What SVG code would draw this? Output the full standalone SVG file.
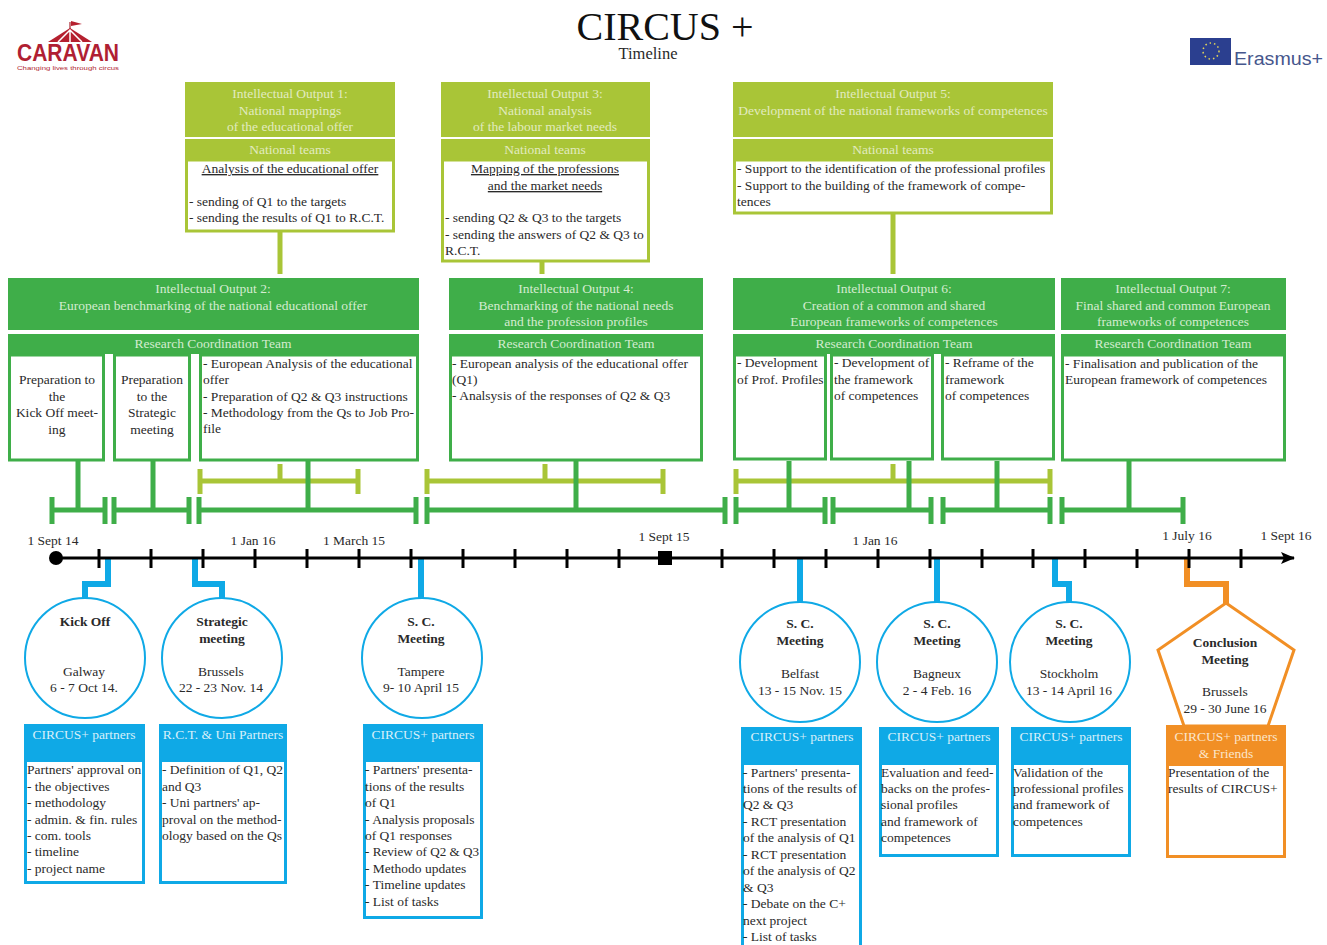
<svg xmlns="http://www.w3.org/2000/svg" width="1327" height="945" viewBox="0 0 1327 945">
<style>
text{font-family:"Liberation Serif","Times New Roman",serif;font-size:13.5px;fill:#2a2a2a}
.m{text-anchor:middle}
.b{font-weight:bold}
.w{fill:#e2ebc0;text-anchor:middle}
.wg{fill:#d4ecd0;text-anchor:middle}
.wb{fill:#d8f0fa;text-anchor:middle}
.wo{fill:#fbe6cc;text-anchor:middle}
.u{text-decoration:underline}
.lg{fill:#a9c537}
.dg{fill:#3fae49}
.lo{fill:#fff;stroke:#a9c537;stroke-width:3}
.do{fill:#fff;stroke:#3fae49;stroke-width:3}
.bo{fill:#fff;stroke:#0fa9e6;stroke-width:3}
.bc{fill:#fff;stroke:#0fa9e6;stroke-width:2}
.oo{fill:#fff;stroke:#f18f25;stroke-width:3}
.bf{fill:#0fa9e6}
.of{fill:#f18f25}
.cl{fill:none;stroke:#a9c537;stroke-width:5}
.cd{fill:none;stroke:#3fae49;stroke-width:5}
.cb{fill:none;stroke:#0fa9e6;stroke-width:6}
.co{fill:none;stroke:#f18f25;stroke-width:6}
.t{stroke:#000;stroke-width:3;fill:none}
</style>
<defs>
<marker id="arrow" markerUnits="userSpaceOnUse" markerWidth="16" markerHeight="14" refX="13" refY="7" orient="auto"><path d="M0 1 L14 7 L0 13 L3 7 Z" fill="#000"/></marker>
</defs>
<rect width="1327" height="945" fill="#fff"/>

<g id="logo-caravan">
<path d="M70 22V33" stroke="#a8242f" stroke-width="1.2"/>
<path d="M71 21L82 24L71 26Z" fill="#b5202f"/>
<path d="M48 42L70 28L92 42Z" fill="#b5202f"/>
<path d="M58 42L70 30L82 42M70 30V42" stroke="#fff" stroke-width="1.5" fill="none"/>
<text x="68" y="61" class="m" style="font-family:'Liberation Sans',sans-serif;font-size:24px;font-weight:bold;fill:#b01f33" textLength="102" lengthAdjust="spacingAndGlyphs">CARAVAN</text>
<text x="68" y="70" class="m" style="font-family:'Liberation Sans',sans-serif;font-size:6px;fill:#b01f33" textLength="102" lengthAdjust="spacingAndGlyphs">Changing lives through circus</text>
</g>
<g id="title">
<text x="665" y="40" class="m" style="font-size:40px;fill:#111">CIRCUS +</text>
<text x="648" y="59" class="m" style="font-size:16.500px">Timeline</text>
</g>
<g id="logo-erasmus">
<rect x="1190" y="38" width="41" height="27" fill="#2b3f8f"/>
<circle cx="1211" cy="51" r="8" fill="none" stroke="#e5d65a" stroke-width="1.5" stroke-dasharray="1.5 3"/>
<text x="1234" y="65" style="font-family:'Liberation Sans',sans-serif;font-size:17.500px;fill:#46568c" textLength="89" lengthAdjust="spacingAndGlyphs">Erasmus+</text>
</g>

<g id="connectors">
<path class="cl" d="M280 232V274M542 262V274M893 213V274"/>
<path class="cl" d="M280 464V481M545 464V481M893 464V481"/>
<path class="cl" d="M200 481H358M200 469V494M358 469V494M427 481H663M427 469V494M663 469V494M736 481H1050M736 469V494M1050 469V494"/>
<path class="cd" d="M78 461V510M153 461V510M308 461V510M576 461V510M789 461V510M909 461V510M997 461V510M1129 461V510"/>
<path class="cd" d="M52 510H105M52 497V524M105 497V524M114 510H189M114 497V524M189 497V524M199 510H416M199 497V524M416 497V524M427 510H725M427 497V524M725 497V524M736 510H825M736 497V524M825 497V524M833 510H931M833 497V524M931 497V524M943 510H1050M943 497V524M1050 497V524M1062 510H1183M1062 497V524M1183 497V524"/>
<path class="cb" d="M108 558V584H85V600M195 558V584H222V600M421 558V600M800 558V602M937 558V602M1055 558V584H1069V602"/>
<path class="co" d="M1187 558V584H1226V604"/>
<path d="M56 558H1294" stroke="#000" stroke-width="3" fill="none" marker-end="url(#arrow)"/>
<path class="t" d="M99 549V568M151 549V568M203 549V568M255 549V568M307 549V568M359 549V568M411 549V568M463 549V568M515 549V568M567 549V568M619 549V568M722 549V568M774 549V568M826 549V568M878 549V568M930 549V568M982 549V568M1033 549V568M1085 549V568M1137 549V568M1189 549V568M1241 549V568"/>
<circle cx="56" cy="558" r="7" fill="#000"/>
<rect x="658" y="551" width="14" height="14" fill="#000"/>
</g>

<g id="axis-labels">
<text x="53" y="545" class="m">1 Sept 14</text>
<text x="253" y="545" class="m">1 Jan 16</text>
<text x="354" y="545" class="m">1 March 15</text>
<text x="664" y="541" class="m">1 Sept 15</text>
<text x="875" y="545" class="m">1 Jan 16</text>
<text x="1187" y="540" class="m">1 July 16</text>
<text x="1286" y="540" class="m">1 Sept 16</text>
</g>

<g id="io1">
<rect class="lg" x="185" y="82" width="210" height="55"/>
<rect class="lg" x="185" y="139" width="210" height="21"/>
<rect class="lo" x="186.500" y="160" width="207" height="71"/>
<text x="290" y="98" class="w">Intellectual Output 1:</text>
<text x="290" y="115" class="w">National mappings</text>
<text x="290" y="131" class="w">of the educational offer</text>
<text x="290" y="154" class="w">National teams</text>
<text x="290" y="173" class="m u">Analysis of the educational offer</text>
<text x="189" y="206">- sending of Q1 to the targets</text>
<text x="189" y="222">- sending the results of Q1 to R.C.T.</text>
</g>
<g id="io3">
<rect class="lg" x="441" y="82" width="209" height="55"/>
<rect class="lg" x="441" y="139" width="209" height="21"/>
<rect class="lo" x="442.500" y="160" width="206" height="101"/>
<text x="545" y="98" class="w">Intellectual Output 3:</text>
<text x="545" y="115" class="w">National analysis</text>
<text x="545" y="131" class="w">of the labour market needs</text>
<text x="545" y="154" class="w">National teams</text>
<text x="545" y="173" class="m u">Mapping of the professions</text>
<text x="545" y="190" class="m u">and the market needs</text>
<text x="445" y="222">- sending Q2 &amp; Q3 to the targets</text>
<text x="445" y="239">- sending the answers of Q2 &amp; Q3 to</text>
<text x="445" y="255">R.C.T.</text>
</g>
<g id="io5">
<rect class="lg" x="733" y="82" width="320" height="55"/>
<rect class="lg" x="733" y="139" width="320" height="21"/>
<rect class="lo" x="734.500" y="160" width="317" height="53"/>
<text x="893" y="98" class="w">Intellectual Output 5:</text>
<text x="893" y="115" class="w">Development of the national frameworks of competences</text>
<text x="893" y="154" class="w">National teams</text>
<text x="737" y="173">- Support to the identification of the professional profiles</text>
<text x="737" y="190">- Support to the building of the framework of compe-</text>
<text x="737" y="206">tences</text>
</g>

<g id="io2">
<rect class="dg" x="8" y="278" width="411" height="52"/>
<rect class="dg" x="8" y="334" width="411" height="20"/>
<rect class="do" x="9.500" y="355" width="94" height="105"/>
<rect class="do" x="114.500" y="355" width="75" height="105"/>
<rect class="do" x="200.500" y="355" width="217" height="105"/>
<text x="213" y="293" class="wg">Intellectual Output 2:</text>
<text x="213" y="310" class="wg">European benchmarking of the national educational offer</text>
<text x="213" y="348" class="wg">Research Coordination Team</text>
<text x="57" y="384" class="m">Preparation to</text>
<text x="57" y="401" class="m">the</text>
<text x="57" y="417" class="m">Kick Off meet-</text>
<text x="57" y="434" class="m">ing</text>
<text x="152" y="384" class="m">Preparation</text>
<text x="152" y="401" class="m">to the</text>
<text x="152" y="417" class="m">Strategic</text>
<text x="152" y="434" class="m">meeting</text>
<text x="203" y="368">- European Analysis of the educational</text>
<text x="203" y="384">offer</text>
<text x="203" y="401">- Preparation of Q2 &amp; Q3 instructions</text>
<text x="203" y="417">- Methodology from the Qs to Job Pro-</text>
<text x="203" y="433">file</text>
</g>
<g id="io4">
<rect class="dg" x="449" y="278" width="254" height="52"/>
<rect class="dg" x="449" y="334" width="254" height="20"/>
<rect class="do" x="450.500" y="355" width="251" height="105"/>
<text x="576" y="293" class="wg">Intellectual Output 4:</text>
<text x="576" y="310" class="wg">Benchmarking of the national needs</text>
<text x="576" y="326" class="wg">and the profession profiles</text>
<text x="576" y="348" class="wg">Research Coordination Team</text>
<text x="452" y="368">- European analysis of the educational offer</text>
<text x="452" y="384">(Q1)</text>
<text x="452" y="400">- Analsysis of the responses of Q2 &amp; Q3</text>
</g>
<g id="io6">
<rect class="dg" x="733" y="278" width="322" height="52"/>
<rect class="dg" x="733" y="334" width="322" height="20"/>
<rect class="do" x="734.500" y="355" width="91" height="104"/>
<rect class="do" x="831.500" y="355" width="101" height="104"/>
<rect class="do" x="942.500" y="355" width="111" height="104"/>
<text x="894" y="293" class="wg">Intellectual Output 6:</text>
<text x="894" y="310" class="wg">Creation of a common and shared</text>
<text x="894" y="326" class="wg">European frameworks of competences</text>
<text x="894" y="348" class="wg">Research Coordination Team</text>
<text x="737" y="367">- Development</text>
<text x="737" y="384">of Prof. Profiles</text>
<text x="834" y="367">- Development of</text>
<text x="834" y="384">the framework</text>
<text x="834" y="400">of competences</text>
<text x="945" y="367">- Reframe of the</text>
<text x="945" y="384">framework</text>
<text x="945" y="400">of competences</text>
</g>
<g id="io7">
<rect class="dg" x="1061" y="278" width="225" height="52"/>
<rect class="dg" x="1061" y="334" width="225" height="20"/>
<rect class="do" x="1062.500" y="355" width="222" height="105"/>
<text x="1173" y="293" class="wg">Intellectual Output 7:</text>
<text x="1173" y="310" class="wg">Final shared and common European</text>
<text x="1173" y="326" class="wg">frameworks of competences</text>
<text x="1173" y="348" class="wg">Research Coordination Team</text>
<text x="1065" y="368">- Finalisation and publication of the</text>
<text x="1065" y="384">European framework of competences</text>
</g>

<g id="kickoff">
<circle class="bc" cx="85" cy="658" r="60"/>
<text x="85" y="626" class="m b">Kick Off</text>
<text x="84" y="676" class="m">Galway</text>
<text x="84" y="692" class="m">6 - 7 Oct 14.</text>
<rect class="bo" x="25.500" y="725.500" width="118" height="157"/>
<rect class="bf" x="24" y="724" width="121" height="38"/>
<text x="84" y="739" class="wb">CIRCUS+ partners</text>
<text x="27" y="774">Partners' approval on</text>
<text x="27" y="791">- the objectives</text>
<text x="27" y="807">- methodology</text>
<text x="27" y="824">- admin. &amp; fin. rules</text>
<text x="27" y="840">- com. tools</text>
<text x="27" y="856">- timeline</text>
<text x="27" y="873">- project name</text>
</g>
<g id="strategic">
<circle class="bc" cx="222" cy="658" r="60"/>
<text x="222" y="626" class="m b">Strategic</text>
<text x="222" y="643" class="m b">meeting</text>
<text x="221" y="676" class="m">Brussels</text>
<text x="221" y="692" class="m">22 - 23 Nov. 14</text>
<rect class="bo" x="160.500" y="725.500" width="125" height="157"/>
<rect class="bf" x="159" y="724" width="128" height="38"/>
<text x="223" y="739" class="wb">R.C.T. &amp; Uni Partners</text>
<text x="162" y="774">- Definition of Q1, Q2</text>
<text x="162" y="791">and Q3</text>
<text x="162" y="807">- Uni partners' ap-</text>
<text x="162" y="824">proval on the method-</text>
<text x="162" y="840">ology based on the Qs</text>
</g>
<g id="sc-tampere">
<circle class="bc" cx="422" cy="658" r="60"/>
<text x="421" y="626" class="m b">S. C.</text>
<text x="421" y="643" class="m b">Meeting</text>
<text x="421" y="676" class="m">Tampere</text>
<text x="421" y="692" class="m">9- 10 April 15</text>
<rect class="bo" x="364.500" y="725.500" width="117" height="192"/>
<rect class="bf" x="363" y="724" width="120" height="38"/>
<text x="423" y="739" class="wb">CIRCUS+ partners</text>
<text x="365" y="774">- Partners' presenta-</text>
<text x="365" y="791">tions of the results</text>
<text x="365" y="807">of Q1</text>
<text x="365" y="824">- Analysis proposals</text>
<text x="365" y="840">of Q1 responses</text>
<text x="365" y="856" textLength="114" lengthAdjust="spacingAndGlyphs">- Review of Q2 &amp; Q3</text>
<text x="365" y="873">- Methodo updates</text>
<text x="365" y="889">- Timeline updates</text>
<text x="365" y="906">- List of tasks</text>
</g>
<g id="sc-belfast">
<circle class="bc" cx="800" cy="662" r="60"/>
<text x="800" y="628" class="m b">S. C.</text>
<text x="800" y="645" class="m b">Meeting</text>
<text x="800" y="678" class="m">Belfast</text>
<text x="800" y="695" class="m">13 - 15 Nov. 15</text>
<rect class="bo" x="742.500" y="728.500" width="118" height="220"/>
<rect class="bf" x="741" y="727" width="121" height="38"/>
<text x="802" y="741" class="wb">CIRCUS+ partners</text>
<text x="743" y="777">- Partners' presenta-</text>
<text x="743" y="793">tions of the results of</text>
<text x="743" y="809">Q2 &amp; Q3</text>
<text x="743" y="826">- RCT presentation</text>
<text x="743" y="842">of the analysis of Q1</text>
<text x="743" y="859">- RCT presentation</text>
<text x="743" y="875">of the analysis of Q2</text>
<text x="743" y="892">&amp; Q3</text>
<text x="743" y="908">- Debate on the C+</text>
<text x="743" y="925">next project</text>
<text x="743" y="941">- List of tasks</text>
</g>
<g id="sc-bagneux">
<circle class="bc" cx="937" cy="662" r="60"/>
<text x="937" y="628" class="m b">S. C.</text>
<text x="937" y="645" class="m b">Meeting</text>
<text x="937" y="678" class="m">Bagneux</text>
<text x="937" y="695" class="m">2 - 4 Feb. 16</text>
<rect class="bo" x="880.500" y="728.500" width="117" height="127"/>
<rect class="bf" x="879" y="727" width="120" height="38"/>
<text x="939" y="741" class="wb">CIRCUS+ partners</text>
<text x="881" y="777">Evaluation and feed-</text>
<text x="881" y="793">backs on the profes-</text>
<text x="881" y="809">sional profiles</text>
<text x="881" y="826">and framework of</text>
<text x="881" y="842">competences</text>
</g>
<g id="sc-stockholm">
<circle class="bc" cx="1070" cy="662" r="60"/>
<text x="1069" y="628" class="m b">S. C.</text>
<text x="1069" y="645" class="m b">Meeting</text>
<text x="1069" y="678" class="m">Stockholm</text>
<text x="1069" y="695" class="m">13 - 14 April 16</text>
<rect class="bo" x="1012.500" y="728.500" width="117" height="127"/>
<rect class="bf" x="1011" y="727" width="120" height="38"/>
<text x="1071" y="741" class="wb">CIRCUS+ partners</text>
<text x="1013" y="777">Validation of the</text>
<text x="1013" y="793">professional profiles</text>
<text x="1013" y="809">and framework of</text>
<text x="1013" y="826">competences</text>
</g>
<g id="conclusion">
<path class="oo" d="M1226 603L1294 650L1268 726H1184L1158 650Z"/>
<text x="1225" y="647" class="m b">Conclusion</text>
<text x="1225" y="664" class="m b">Meeting</text>
<text x="1225" y="696" class="m">Brussels</text>
<text x="1225" y="713" class="m">29 - 30 June 16</text>
<rect class="oo" x="1167.500" y="726.500" width="117" height="130"/>
<rect class="of" x="1166" y="725" width="120" height="41"/>
<text x="1226" y="741" class="wo">CIRCUS+ partners</text>
<text x="1226" y="758" class="wo">&amp; Friends</text>
<text x="1168" y="777">Presentation of the</text>
<text x="1168" y="793">results of CIRCUS+</text>
</g>
</svg>
